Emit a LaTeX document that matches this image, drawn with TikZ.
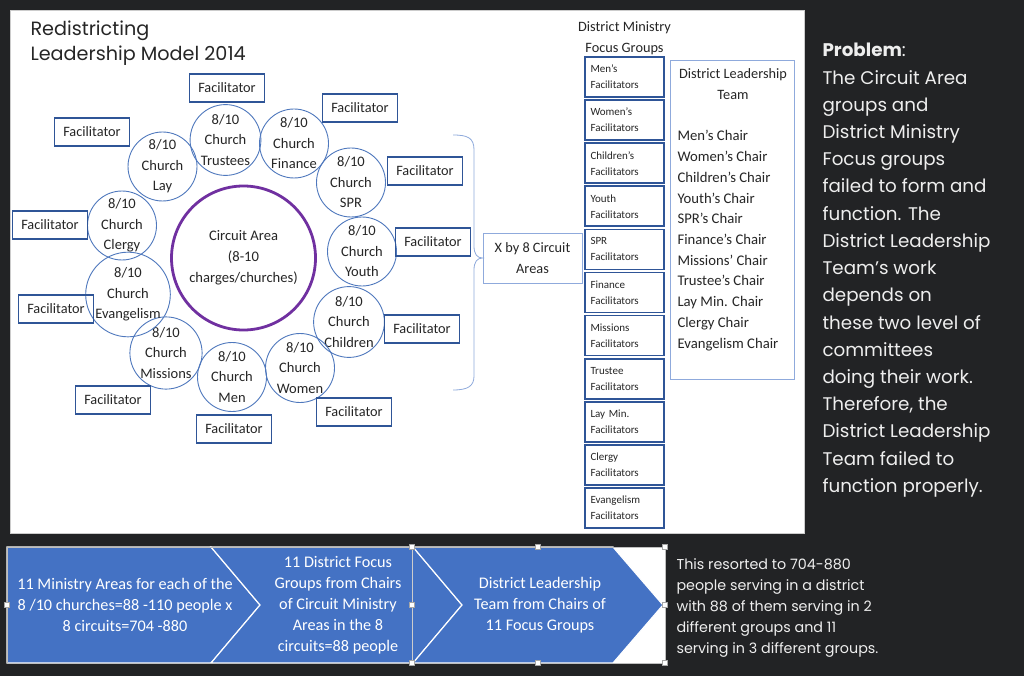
\documentclass[tikz,border=0pt]{standalone}
\usepackage{fontspec}
\setmainfont{Carlito}
\newfontfamily\gothic{Poppins}
\usetikzlibrary{calc}
\definecolor{slate}{HTML}{222325}
\definecolor{ink}{HTML}{262626}
\definecolor{ring}{HTML}{4F78BD}
\definecolor{frame}{HTML}{2F5597}
\definecolor{pale}{HTML}{8FAADC}
\definecolor{plum}{HTML}{7030A0}
\definecolor{chev}{HTML}{4472C4}
\definecolor{chalk}{HTML}{EEEEEE}

\begin{document}
\begin{tikzpicture}[
    x=1pt, y=-1pt,
    church/.style={circle, draw=ring, line width=0.9pt, minimum size=69pt, inner sep=0pt,
                   font=\fontsize{14.5}{20.5}\selectfont, text=ink, align=center},
    circuit/.style={circle, draw=plum, line width=2.8pt, minimum size=144pt, inner sep=0pt,
                    font=\fontsize{14.6}{21}\selectfont, text=ink, align=center},
    facil/.style={draw=frame, line width=1.6pt, minimum width=75pt, minimum height=28pt,
                  inner sep=0pt, font=\fontsize{14.3}{17}\selectfont, text=ink},
    focus/.style={draw=frame, line width=1.6pt, minimum width=79pt, minimum height=40pt,
                  inner sep=0pt, text width=68pt, align=left,
                  font=\fontsize{11}{16}\selectfont, text=ink},
    thinbox/.style={draw=pale, line width=0.8pt, inner sep=0pt},
    plain/.style={font=\fontsize{14.3}{20.5}\selectfont, text=ink, align=center},
    chevtext/.style={font=\fontsize{16.2}{21}\selectfont, text=white, align=center},
    slide/.style={font=\gothic\fontsize{18.3}{27}\selectfont, text=chalk, anchor=base west},
    note/.style={font=\gothic\fontsize{14.3}{21}\selectfont, text=chalk, anchor=base west},
    handle/.style={fill=white, draw=gray!70, line width=0.5pt},
  ]

  % dark slide and white panel
  \fill[slate] (0,0) rectangle (1024,676);
  \useasboundingbox (0,0) rectangle (1024,676);
  \filldraw[fill=white, draw=gray!40] (10,10) rectangle (804,533);

  % title
  \node[anchor=north west, font=\gothic\fontsize{19.2}{25}\selectfont, text=ink, align=left]
    (title) at (27,17) {Redistricting\\Leadership Model 2014};

  % circuit area with its churches
  \node[circuit] (circuit) at (243.5,258) {Circuit Area\\(8-10\\charges/churches)};
  \foreach \name/\cx/\cy/\role in {trustees/225.5/140/Trustees, finance/294/143.5/Finance,
      spr/351/182.5/SPR, youth/362/251.5/Youth, children/349/322/Children,
      women/300/368/Women, men/232/377/Men, missions/166/353/Missions,
      evangelism/128/294.5/Evangelism, clergy/122/225.5/Clergy, lay/162.5/166.5/Lay}
    \node[church] (c-\name) at (\cx,\cy) {8/10\\Church\\\role};

  % facilitators round the ring
  \foreach \name/\fx/\fy in {trustees/227/88, finance/360/108, spr/425/171, youth/433/242,
      children/422/329, women/354/412, men/234/429, missions/113/400,
      evangelism/56/309, clergy/50/225, lay/92/132}
    \node[facil] (f-\name) at (\fx,\fy) {Facilitator};

  % X by 8 and its brace
  \node[thinbox, minimum width=99pt, minimum height=50pt, plain] (xby) at (532.5,258)
    {X by 8 Circuit\\Areas};
  \draw[pale, line width=0.8pt]
    (453,135) .. controls (468,135) and (474,138) .. (474,150) -- (474,246)
    .. controls (474,254) and (477,258) .. (xby.west)
    .. controls (477,258) and (474,262) .. (474,270) -- (474,376)
    .. controls (474,386) and (468,390) .. (453,390);

  % district ministry focus groups
  \node[plain] (dmfg) at (624.5,38) {District Ministry\\Focus Groups};
  \foreach \grp [count=\i] in {Men’s, Women’s, Children’s, Youth, SPR, Finance, Missions,
      Trustee, Lay Min., Clergy, Evangelism}
    \node[focus] (g\i) at (624.5, {77 + 43.1*(\i-1)}) {\grp\\Facilitators};

  % district leadership team
  \node[thinbox, minimum width=124pt, minimum height=319pt] (dlt) at (732,219.5) {};
  \node[plain] (dlt-head) at (733,84) {District Leadership\\Team};
  \foreach \chair [count=\i] in {Men’s Chair, Women’s Chair, Children’s Chair, Youth’s Chair,
      SPR’s Chair, Finance’s Chair, Missions’ Chair, Trustee’s Chair, Lay Min. Chair,
      Clergy Chair, Evangelism Chair}
    \node[plain, anchor=base west, font=\fontsize{14.7}{20}\selectfont] (chair\i)
      at (674, {141 + 20.7*(\i-1)}) {\chair};

  % problem statement
  \foreach \line [count=\i] in {{\textbf{Problem}:}, The Circuit Area, groups and,
      District Ministry, Focus groups, failed to form and, function. The,
      District Leadership, Team’s work, depends on, these two level of, committees,
      doing their work., {Therefore, the}, District Leadership, Team failed to,
      function properly.}
    \node[slide] (p\i) at (819, {57 + 27.2*(\i-1)}) {\line};

  % chevron process strip
  \fill[white] (7,547) rectangle (665,663);
  \filldraw[fill=chev, draw=white, line width=1.2pt]
    (7,547) -- (211,547) -- (260,605) -- (211,663) -- (7,663) -- cycle;
  \filldraw[fill=chev, draw=white, line width=1.2pt]
    (211,547) -- (413,547) -- (462,605) -- (413,663) -- (211,663) -- (260,605) -- cycle;
  \filldraw[fill=chev, draw=white, line width=1.2pt]
    (413,547) -- (613,547) -- (663,605) -- (613,663) -- (413,663) -- (462,605) -- cycle;
  \draw[gray!50, line width=0.6pt] (7,547) rectangle (665,663);
  \draw[gray!40, line width=0.8pt] (412,547) -- (412,663);
  \foreach \hx/\hy in {7/605, 412/547, 412/605, 412/663, 538/547, 538/663, 665/547,
      665/605, 665/663}
    \filldraw[handle] (\hx-2.5,\hy-2.5) rectangle ++(5,5);

  \node[chevtext] (step1) at (125,605)
    {11 Ministry Areas for each of the\\8 /10 churches=88 -110 people x\\8 circuits=704 -880};
  \node[chevtext] (step2) at (338,605)
    {11 District Focus\\Groups from Chairs\\of Circuit Ministry\\Areas in the 8\\circuits=88 people};
  \node[chevtext] (step3) at (540,605)
    {District Leadership\\Team from Chairs of\\11 Focus Groups};

  % closing remark
  \foreach \line [count=\i] in {This resorted to 704-880, people serving in a district,
      with 88 of them serving in 2, different groups and 11, serving in 3 different groups.}
    \node[note] (n\i) at (673, {569 + 21*(\i-1)}) {\line};

\end{tikzpicture}
\end{document}
